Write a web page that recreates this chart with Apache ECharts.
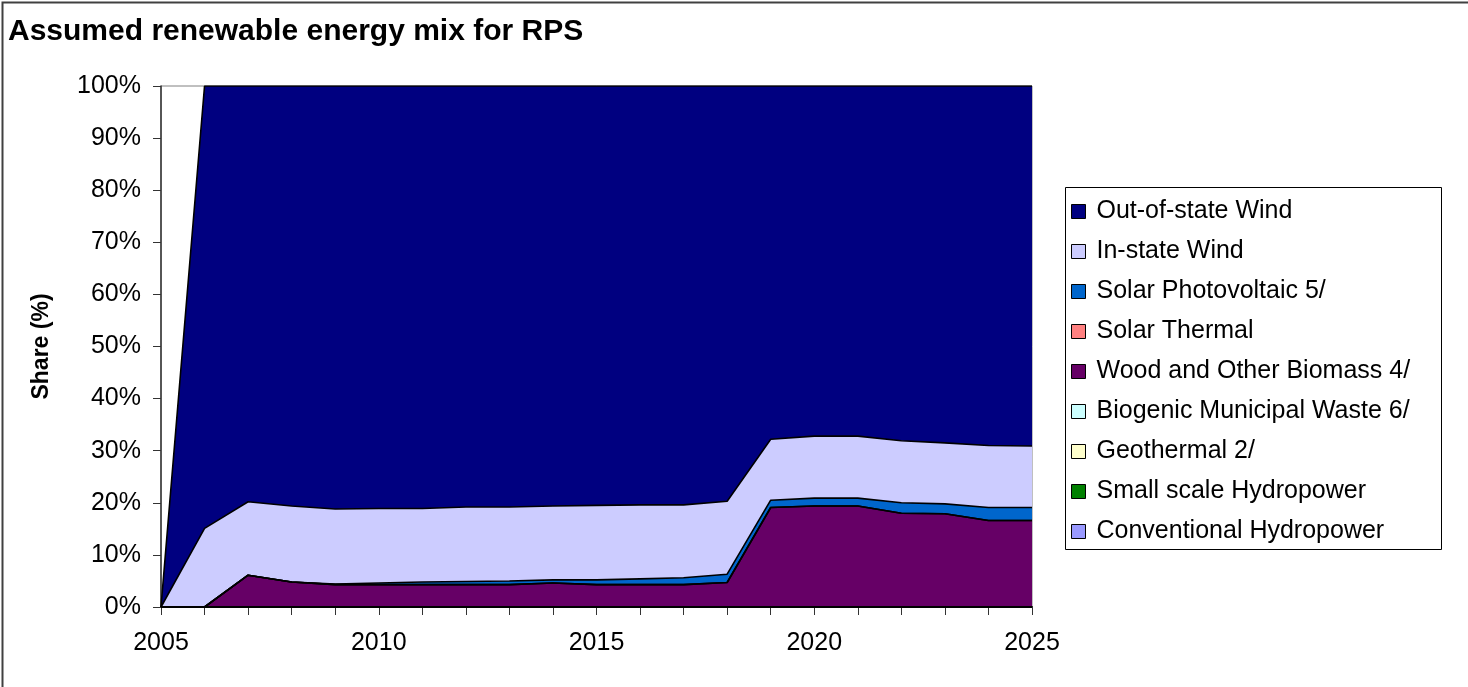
<!DOCTYPE html>
<html><head><meta charset="utf-8">
<script src="https://cdn.jsdelivr.net/npm/echarts@6/dist/echarts.min.js"></script>
<style>html,body{margin:0;padding:0;background:#fff}#c{width:1468px;height:687px}</style>
</head><body><div id="c"></div>
<script>
const years = ['2005','2006','2007','2008','2009','2010','2011','2012','2013','2014','2015','2016','2017','2018','2019','2020','2021','2022','2023','2024','2025'];
const conventionalHydro = [0,0,0,0,0,0,0,0,0,0,0,0,0,0,0,0,0,0,0,0,0];
const smallHydro        = [0,0,0,0,0,0,0,0,0,0,0,0,0,0,0,0,0,0,0,0,0];
const geothermal        = [0,0,0,0,0,0,0,0,0,0,0,0,0,0,0,0,0,0,0,0,0];
const biogenicMSW       = [0,0,0,0,0,0,0,0,0,0,0,0,0,0,0,0,0,0,0,0,0];
const woodBiomass       = [0,0,6.1,4.8,4.3,4.3,4.3,4.3,4.3,4.6,4.3,4.3,4.3,4.7,19.1,19.4,19.4,18.0,17.9,16.6,16.6];
const solarThermal      = [0,0,0,0,0,0,0,0,0,0,0,0,0,0,0,0,0,0,0,0,0];
const solarPV           = [0,0,0,0,0.1,0.3,0.5,0.6,0.7,0.6,0.9,1.1,1.3,1.6,1.4,1.5,1.5,2.0,1.9,2.5,2.5];
const inStateWind       = [0,15.1,14.1,14.6,14.4,14.3,14.1,14.3,14.2,14.2,14.3,14.2,14.0,14.0,11.7,11.9,11.9,11.9,11.7,11.9,11.8];
const outStateWind      = [0,84.9,79.8,80.6,81.2,81.1,81.1,80.8,80.8,80.6,80.5,80.4,80.4,79.7,67.8,67.2,67.2,68.1,68.5,69.0,69.1];
const yTicks = [0,10,20,30,40,50,60,70,80,90,100];

const defs = [
  ['Conventional Hydropower', conventionalHydro, '#9999FF'],
  ['Small scale Hydropower', smallHydro, '#008000'],
  ['Geothermal 2/', geothermal, '#FFFFCC'],
  ['Biogenic Municipal Waste 6/', biogenicMSW, '#CCFFFF'],
  ['Wood and Other Biomass 4/', woodBiomass, '#660066'],
  ['Solar Thermal', solarThermal, '#FF8080'],
  ['Solar Photovoltaic 5/', solarPV, '#0066CC'],
  ['In-state Wind', inStateWind, '#CCCCFF'],
  ['Out-of-state Wind', outStateWind, '#000080']
];
const FONT = 'Liberation Sans, Arial, sans-serif';
const series = defs.map(d => ({
  name: d[0], type: 'line', stack: 'total', data: d[1], symbol: 'none',
  color: d[2],
  lineStyle: {color: '#000', width: 1.6},
  areaStyle: {color: d[2], opacity: 1},
  itemStyle: {color: d[2]},
  emphasis: {disabled: true}, silent: true
}));
const chart = echarts.init(document.getElementById('c'));
chart.setOption({
  animation: false,
  backgroundColor: '#fff',
  title: {text: 'Assumed renewable energy mix for RPS', left: 3, top: 12,
    textStyle: {fontFamily: FONT, fontSize: 30, fontWeight: 'bold', color: '#000'}},
  grid: {left: 161, right: 436, top: 86, bottom: 80, show: true, borderColor: '#808080', borderWidth: 1, backgroundColor: '#fff'},
  xAxis: {type: 'category', data: years, boundaryGap: false,
    axisLine: {lineStyle: {color: '#000', width: 2}},
    axisTick: {show: true, interval: 0, length: 8, lineStyle: {color: '#333'}},
    axisLabel: {interval: 4, margin: 24, fontFamily: FONT, fontSize: 25, color: '#000'},
    splitLine: {show: false}},
  yAxis: {type: 'value', min: 0, max: 100, interval: 10,
    name: 'Share (%)', nameLocation: 'middle', nameGap: 108,
    nameTextStyle: {fontFamily: FONT, fontSize: 23, fontWeight: 'bold', color: '#000'},
    axisLine: {show: true, lineStyle: {color: '#333', width: 1.5}},
    axisTick: {show: true, length: 8, lineStyle: {color: '#333'}},
    axisLabel: {margin: 20, fontFamily: FONT, fontSize: 25, color: '#000', formatter: v => yTicks.includes(v) ? v + '%' : ''},
    splitLine: {show: false}},
  legend: {orient: 'vertical', left: 1066, top: 194, itemWidth: 14, itemHeight: 14, itemGap: 15,
    icon: 'rect',
    data: defs.map(d => d[0]).reverse(),
    itemStyle: {borderColor: '#000', borderWidth: 1},
    textStyle: {fontFamily: FONT, fontSize: 25, color: '#000', padding: [0,0,0,6]}},
  graphic: [
    {type: 'rect', left: 1063, top: 185, shape: {width: 376, height: 362}, style: {fill: 'none', stroke: '#000', lineWidth: 1}, z: -1},
    {type: 'rect', left: 0, top: 0, shape: {width: 1467, height: 686}, style: {fill: 'none', stroke: '#404040', lineWidth: 2}, z: 100}
  ],
  series: series
});
</script></body></html>
